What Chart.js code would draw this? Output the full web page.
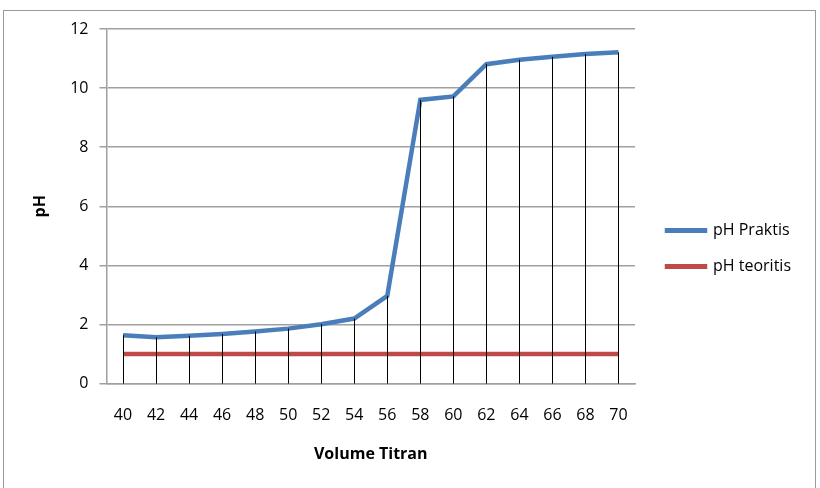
<!DOCTYPE html>
<html>
<head>
<meta charset="utf-8">
<script src="https://cdn.jsdelivr.net/npm/chart.js@4.4.0/dist/chart.umd.min.js"></script>
<style>
    body { margin: 0; background: #ffffff; }
    #wrap { position: absolute; left: 0; top: 0; width: 820px; height: 488px; }
    #frame { position: absolute; left: 3px; top: 10px; width: 813px; height: 480px; border: 1px solid #9a9a9a; box-sizing: border-box; }
</style>
</head>
<body>
<div id="frame"></div>
<div id="wrap"><canvas id="ph-plot" width="820" height="488"></canvas></div>
<script>
// volume titran (categories)
let volume = ['40', '42', '44', '46', '48', '50', '52', '54', '56', '58', '60', '62', '64', '66', '68', '70'];
// pH
let ph_praktis = [1.64, 1.57, 1.62, 1.68, 1.76, 1.86, 2.01, 2.2, 2.97, 9.6, 9.72, 10.81, 10.96, 11.06, 11.15, 11.21];
let ph_teoritis = [1, 1, 1, 1, 1, 1, 1, 1, 1, 1, 1, 1, 1, 1, 1, 1];

let font_family = "'Open Sans', 'Liberation Sans', sans-serif";

// drop lines from highest point down to the category axis
const drop_lines = {
    id: 'drop_lines',
    afterDatasetsDraw(chart) {
        let ctx = chart.ctx;
        let xs = chart.scales.x;
        let ys = chart.scales.y;
        ctx.save();
        ctx.strokeStyle = '#000000';
        ctx.lineWidth = 1;
        for (let i = 0; i < volume.length; i++) {
            let top = Math.max(ph_praktis[i], ph_teoritis[i]);
            let px = Math.round(xs.getPixelForValue(i)) + 0.5;
            ctx.beginPath();
            ctx.moveTo(px, ys.getPixelForValue(top));
            ctx.lineTo(px, ys.getPixelForValue(0));
            ctx.stroke();
        }
        ctx.restore();
    }
};

// push the legend a bit away from the plot area
const legend_gap = {
    id: 'legend_gap',
    afterLayout(chart) {
        chart.legend.left += 12;
        chart.legend.right += 12;
    }
};

let ctx = document.getElementById('ph-plot');
var chart = new Chart(ctx, {
    type: 'line',
    data: {
        labels: volume,
        datasets: [
            {
                label: 'pH Praktis',
                data: ph_praktis,
                fill: false,
                borderColor: '#4a7ebb',
                backgroundColor: '#4a7ebb',
                borderWidth: 4.5,
                pointRadius: 0,
                tension: 0
            },
            {
                label: 'pH teoritis',
                data: ph_teoritis,
                fill: false,
                borderColor: '#be4b48',
                backgroundColor: '#be4b48',
                borderWidth: 4.5,
                pointRadius: 0,
                tension: 0
            }
        ]
    },
    options: {
        responsive: false,
        animation: false,
        layout: { padding: { left: 27, right: 31, top: 29, bottom: 20 } },
        scales: {
            x: {
                offset: true,
                grid: { display: false },
                border: { display: true, color: '#a0a0a0', width: 1.5 },
                ticks: { color: '#000000', padding: 14, maxRotation: 0, font: { family: font_family, size: 16 } },
                title: {
                    display: true,
                    text: 'Volume Titran',
                    color: '#000000',
                    padding: { top: 6 },
                    font: { family: font_family, size: 16, weight: 'bold' }
                }
            },
            y: {
                min: 0,
                max: 12,
                ticks: { stepSize: 2, color: '#000000', padding: 11, font: { family: font_family, size: 16 } },
                grid: { color: '#a0a0a0', lineWidth: 1.5, tickLength: 7 },
                border: { display: true, color: '#a0a0a0', width: 1.5 },
                title: {
                    display: true,
                    text: 'pH',
                    color: '#000000',
                    padding: { bottom: 9 },
                    font: { family: font_family, size: 16, weight: 'bold' }
                }
            }
        },
        plugins: {
            legend: {
                position: 'right',
                labels: {
                    color: '#000000',
                    boxWidth: 38,
                    boxHeight: 0.5,
                    padding: 20,
                    font: { family: font_family, size: 16 }
                }
            },
            tooltip: { enabled: false }
        }
    },
    plugins: [drop_lines, legend_gap]
});
</script>
</body>
</html>
